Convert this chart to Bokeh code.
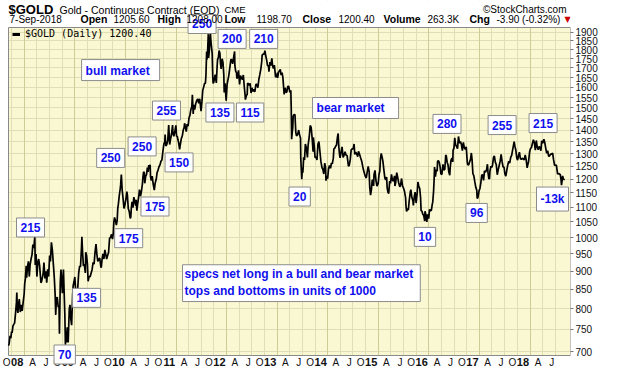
import math
import pandas as pd
from bokeh.plotting import figure
from bokeh.models import (Range1d, FixedTicker, PrintfTickFormatter, Label, Legend, LegendItem,
                          Grid, BoxAnnotation)
from bokeh.embed import file_html
from bokeh.resources import INLINE

# ---------------- data (continuous gold contract, USD/oz) ----------------
gold_2007 = [("2007-09-10", 713), ("2007-09-14", 718), ("2007-09-20", 735), ("2007-09-26", 730),
             ("2007-10-01", 745), ("2007-10-05", 742), ("2007-10-11", 758), ("2007-10-17", 762),
             ("2007-10-23", 765), ("2007-10-30", 790), ("2007-11-05", 815), ("2007-11-08", 842),
             ("2007-11-12", 800), ("2007-11-16", 790), ("2007-11-21", 812), ("2007-11-26", 825),
             ("2007-12-03", 792), ("2007-12-07", 800), ("2007-12-12", 810), ("2007-12-17", 795),
             ("2007-12-21", 808), ("2007-12-31", 838)]
gold_2008 = [("2008-01-04", 865), ("2008-01-09", 880), ("2008-01-15", 915), ("2008-01-18", 882),
             ("2008-01-24", 912), ("2008-01-31", 928), ("2008-02-06", 885), ("2008-02-12", 918),
             ("2008-02-19", 935), ("2008-02-26", 948), ("2008-03-03", 978), ("2008-03-10", 968),
             ("2008-03-17", 1003), ("2008-03-20", 918), ("2008-03-26", 950), ("2008-04-01", 885),
             ("2008-04-08", 925), ("2008-04-14", 935), ("2008-04-21", 915), ("2008-04-30", 868),
             ("2008-05-05", 872), ("2008-05-12", 885), ("2008-05-16", 892), ("2008-05-22", 925),
             ("2008-05-29", 880), ("2008-06-05", 900), ("2008-06-11", 868), ("2008-06-18", 905),
             ("2008-06-25", 885), ("2008-07-02", 945), ("2008-07-08", 928), ("2008-07-15", 985),
             ("2008-07-22", 960), ("2008-07-29", 920), ("2008-08-05", 880), ("2008-08-11", 835),
             ("2008-08-15", 785), ("2008-08-20", 825), ("2008-08-26", 830), ("2008-09-02", 805),
             ("2008-09-08", 805), ("2008-09-11", 740), ("2008-09-17", 870), ("2008-09-22", 905),
             ("2008-09-26", 880), ("2008-10-02", 840), ("2008-10-08", 890), ("2008-10-10", 905),
             ("2008-10-15", 840), ("2008-10-20", 785), ("2008-10-24", 715), ("2008-10-28", 745),
             ("2008-10-31", 720), ("2008-11-06", 755), ("2008-11-13", 720), ("2008-11-21", 800),
             ("2008-11-26", 810), ("2008-12-02", 775), ("2008-12-08", 760), ("2008-12-15", 835),
             ("2008-12-19", 860), ("2008-12-26", 872), ("2008-12-31", 884)]
gold_2009 = [("2009-01-07", 842), ("2009-01-15", 810), ("2009-01-22", 860), ("2009-01-28", 895),
             ("2009-02-04", 915), ("2009-02-10", 912), ("2009-02-17", 968), ("2009-02-20", 1002),
             ("2009-02-25", 955), ("2009-03-03", 915), ("2009-03-09", 920), ("2009-03-17", 895),
             ("2009-03-20", 955), ("2009-03-26", 945), ("2009-04-01", 920), ("2009-04-06", 872),
             ("2009-04-13", 885), ("2009-04-21", 885), ("2009-04-28", 895), ("2009-05-05", 905),
             ("2009-05-12", 925), ("2009-05-19", 920), ("2009-05-26", 955), ("2009-06-02", 980),
             ("2009-06-08", 950), ("2009-06-15", 928), ("2009-06-22", 935), ("2009-06-29", 938),
             ("2009-07-06", 915), ("2009-07-10", 910), ("2009-07-16", 935), ("2009-07-22", 950),
             ("2009-07-29", 935), ("2009-08-05", 962), ("2009-08-12", 948), ("2009-08-18", 935),
             ("2009-08-25", 945), ("2009-09-01", 955), ("2009-09-08", 998), ("2009-09-15", 1000),
             ("2009-09-22", 1010), ("2009-09-29", 995), ("2009-10-05", 1015), ("2009-10-09", 1050),
             ("2009-10-14", 1065), ("2009-10-20", 1055), ("2009-10-27", 1040), ("2009-11-02", 1055),
             ("2009-11-06", 1095), ("2009-11-11", 1112), ("2009-11-17", 1140), ("2009-11-24", 1165),
             ("2009-11-27", 1180), ("2009-12-02", 1218), ("2009-12-08", 1160), ("2009-12-15", 1128),
             ("2009-12-21", 1095), ("2009-12-28", 1108)]
gold_2010 = [("2010-01-06", 1135), ("2010-01-11", 1155), ("2010-01-15", 1140), ("2010-01-21", 1095),
             ("2010-01-28", 1085), ("2010-02-04", 1062), ("2010-02-08", 1065), ("2010-02-12", 1095),
             ("2010-02-17", 1118), ("2010-02-24", 1098), ("2010-03-02", 1135), ("2010-03-08", 1123),
             ("2010-03-15", 1105), ("2010-03-19", 1125), ("2010-03-24", 1088), ("2010-03-31", 1115),
             ("2010-04-06", 1135), ("2010-04-12", 1162), ("2010-04-19", 1138), ("2010-04-26", 1155),
             ("2010-05-03", 1182), ("2010-05-07", 1208), ("2010-05-12", 1228), ("2010-05-17", 1225),
             ("2010-05-20", 1185), ("2010-05-27", 1212), ("2010-06-02", 1218), ("2010-06-08", 1245),
             ("2010-06-14", 1228), ("2010-06-18", 1255), ("2010-06-24", 1240), ("2010-06-28", 1256),
             ("2010-07-01", 1208), ("2010-07-07", 1195), ("2010-07-13", 1212), ("2010-07-20", 1182),
             ("2010-07-28", 1160), ("2010-08-03", 1185), ("2010-08-11", 1200), ("2010-08-17", 1225),
             ("2010-08-24", 1235), ("2010-08-31", 1248), ("2010-09-07", 1255), ("2010-09-14", 1270),
             ("2010-09-21", 1275), ("2010-09-28", 1309), ("2010-10-05", 1340), ("2010-10-12", 1350),
             ("2010-10-14", 1380), ("2010-10-19", 1332), ("2010-10-26", 1338), ("2010-11-02", 1355),
             ("2010-11-09", 1422), ("2010-11-16", 1338), ("2010-11-22", 1360), ("2010-11-30", 1385),
             ("2010-12-07", 1422), ("2010-12-10", 1385), ("2010-12-16", 1373), ("2010-12-22", 1388),
             ("2010-12-31", 1421)]
gold_2011 = [("2011-01-05", 1372), ("2011-01-10", 1373), ("2011-01-14", 1360), ("2011-01-20", 1345),
             ("2011-01-27", 1318), ("2011-02-01", 1338), ("2011-02-08", 1363), ("2011-02-15", 1374),
             ("2011-02-22", 1400), ("2011-02-28", 1410), ("2011-03-04", 1430), ("2011-03-10", 1412),
             ("2011-03-16", 1393), ("2011-03-22", 1426), ("2011-03-29", 1417), ("2011-04-05", 1455),
             ("2011-04-11", 1465), ("2011-04-18", 1492), ("2011-04-25", 1507), ("2011-04-29", 1563),
             ("2011-05-05", 1472), ("2011-05-09", 1515), ("2011-05-16", 1492), ("2011-05-23", 1520),
             ("2011-05-31", 1537), ("2011-06-07", 1543), ("2011-06-14", 1522), ("2011-06-21", 1544),
             ("2011-06-28", 1500), ("2011-07-01", 1485), ("2011-07-07", 1530), ("2011-07-13", 1585),
             ("2011-07-19", 1600), ("2011-07-26", 1620), ("2011-08-01", 1620), ("2011-08-05", 1660),
             ("2011-08-10", 1790), ("2011-08-12", 1745), ("2011-08-17", 1790), ("2011-08-22", 1890),
             ("2011-08-24", 1755), ("2011-08-29", 1790), ("2011-09-01", 1828), ("2011-09-06", 1900),
             ("2011-09-09", 1860), ("2011-09-13", 1825), ("2011-09-19", 1780), ("2011-09-23", 1660),
             ("2011-09-26", 1620), ("2011-09-30", 1625), ("2011-10-04", 1640), ("2011-10-11", 1665),
             ("2011-10-19", 1622), ("2011-10-25", 1712), ("2011-10-28", 1745), ("2011-11-03", 1758),
             ("2011-11-08", 1795), ("2011-11-14", 1780), ("2011-11-18", 1725), ("2011-11-23", 1695),
             ("2011-11-30", 1750), ("2011-12-06", 1730), ("2011-12-12", 1665), ("2011-12-15", 1575),
             ("2011-12-21", 1620), ("2011-12-29", 1535)]
gold_2012 = [("2012-01-05", 1615), ("2012-01-10", 1635), ("2012-01-17", 1660), ("2012-01-25", 1705),
             ("2012-02-01", 1745), ("2012-02-07", 1745), ("2012-02-14", 1722), ("2012-02-21", 1758),
             ("2012-02-28", 1790), ("2012-03-01", 1712), ("2012-03-07", 1682), ("2012-03-13", 1675),
             ("2012-03-15", 1645), ("2012-03-21", 1650), ("2012-03-27", 1688), ("2012-04-04", 1615),
             ("2012-04-10", 1660), ("2012-04-17", 1648), ("2012-04-24", 1640), ("2012-05-01", 1663),
             ("2012-05-08", 1603), ("2012-05-14", 1560), ("2012-05-16", 1540), ("2012-05-23", 1560),
             ("2012-05-29", 1565), ("2012-06-01", 1622), ("2012-06-06", 1618), ("2012-06-12", 1610),
             ("2012-06-19", 1620), ("2012-06-26", 1572), ("2012-07-02", 1598), ("2012-07-09", 1580),
             ("2012-07-16", 1590), ("2012-07-23", 1577), ("2012-07-31", 1615), ("2012-08-07", 1615),
             ("2012-08-14", 1598), ("2012-08-21", 1640), ("2012-08-28", 1665), ("2012-09-04", 1693),
             ("2012-09-11", 1735), ("2012-09-14", 1770), ("2012-09-21", 1775), ("2012-09-28", 1775),
             ("2012-10-04", 1795), ("2012-10-10", 1765), ("2012-10-16", 1745), ("2012-10-23", 1712),
             ("2012-10-30", 1712), ("2012-11-02", 1680), ("2012-11-09", 1732), ("2012-11-15", 1712),
             ("2012-11-23", 1752), ("2012-11-28", 1715), ("2012-12-04", 1697), ("2012-12-11", 1715),
             ("2012-12-14", 1695), ("2012-12-20", 1652), ("2012-12-28", 1657)]
gold_2013 = [("2013-01-03", 1675), ("2013-01-04", 1648), ("2013-01-10", 1677), ("2013-01-17", 1685),
             ("2013-01-23", 1693), ("2013-01-29", 1663), ("2013-02-05", 1675), ("2013-02-11", 1648),
             ("2013-02-15", 1610), ("2013-02-20", 1565), ("2013-02-27", 1598), ("2013-03-05", 1575),
             ("2013-03-11", 1577), ("2013-03-18", 1605), ("2013-03-25", 1605), ("2013-04-02", 1575),
             ("2013-04-09", 1585), ("2013-04-12", 1502), ("2013-04-15", 1360), ("2013-04-16", 1370),
             ("2013-04-23", 1410), ("2013-04-26", 1462), ("2013-05-03", 1470), ("2013-05-09", 1468),
             ("2013-05-15", 1390), ("2013-05-20", 1375), ("2013-05-28", 1380), ("2013-06-05", 1400),
             ("2013-06-11", 1380), ("2013-06-18", 1365), ("2013-06-20", 1280), ("2013-06-27", 1200),
             ("2013-07-02", 1245), ("2013-07-05", 1225), ("2013-07-11", 1285), ("2013-07-17", 1275),
             ("2013-07-23", 1340), ("2013-07-30", 1325), ("2013-08-07", 1285), ("2013-08-12", 1335),
             ("2013-08-20", 1370), ("2013-08-27", 1420), ("2013-09-03", 1412), ("2013-09-10", 1365),
             ("2013-09-17", 1308), ("2013-09-19", 1368), ("2013-09-26", 1325), ("2013-10-01", 1285),
             ("2013-10-10", 1285), ("2013-10-15", 1275), ("2013-10-22", 1340), ("2013-10-29", 1350),
             ("2013-11-05", 1310), ("2013-11-12", 1270), ("2013-11-20", 1245), ("2013-11-27", 1237),
             ("2013-12-03", 1220), ("2013-12-10", 1262), ("2013-12-16", 1245), ("2013-12-19", 1195),
             ("2013-12-27", 1213), ("2013-12-31", 1202)]
gold_2014 = [("2014-01-06", 1238), ("2014-01-13", 1253), ("2014-01-21", 1242), ("2014-01-27", 1262),
             ("2014-02-03", 1260), ("2014-02-10", 1282), ("2014-02-14", 1320), ("2014-02-21", 1323),
             ("2014-02-27", 1331), ("2014-03-05", 1336), ("2014-03-12", 1370), ("2014-03-17", 1385),
             ("2014-03-21", 1333), ("2014-03-27", 1295), ("2014-03-31", 1283), ("2014-04-08", 1309),
             ("2014-04-14", 1328), ("2014-04-22", 1285), ("2014-04-29", 1295), ("2014-05-06", 1308),
             ("2014-05-12", 1295), ("2014-05-20", 1293), ("2014-05-27", 1265), ("2014-05-30", 1250),
             ("2014-06-05", 1253), ("2014-06-12", 1275), ("2014-06-19", 1316), ("2014-06-26", 1320),
             ("2014-07-03", 1320), ("2014-07-10", 1340), ("2014-07-15", 1297), ("2014-07-22", 1306),
             ("2014-07-29", 1300), ("2014-08-05", 1288), ("2014-08-11", 1310), ("2014-08-19", 1297),
             ("2014-08-26", 1284), ("2014-09-03", 1270), ("2014-09-10", 1250), ("2014-09-16", 1235),
             ("2014-09-23", 1222), ("2014-09-30", 1210), ("2014-10-06", 1205), ("2014-10-14", 1232),
             ("2014-10-20", 1249), ("2014-10-27", 1228), ("2014-10-31", 1171), ("2014-11-06", 1142),
             ("2014-11-12", 1162), ("2014-11-18", 1197), ("2014-11-24", 1195), ("2014-11-28", 1175),
             ("2014-12-01", 1218), ("2014-12-08", 1234), ("2014-12-15", 1195), ("2014-12-22", 1175),
             ("2014-12-31", 1184)]
gold_2015 = [("2015-01-06", 1218), ("2015-01-12", 1232), ("2015-01-16", 1277), ("2015-01-22", 1301),
             ("2015-01-28", 1287), ("2015-02-03", 1270), ("2015-02-09", 1241), ("2015-02-17", 1205),
             ("2015-02-23", 1198), ("2015-03-02", 1208), ("2015-03-06", 1167), ("2015-03-12", 1152),
             ("2015-03-17", 1148), ("2015-03-24", 1193), ("2015-03-30", 1185), ("2015-04-06", 1219),
             ("2015-04-13", 1197), ("2015-04-20", 1193), ("2015-04-28", 1213), ("2015-05-01", 1175),
             ("2015-05-07", 1190), ("2015-05-14", 1225), ("2015-05-21", 1207), ("2015-05-28", 1187),
             ("2015-06-05", 1172), ("2015-06-11", 1180), ("2015-06-18", 1203), ("2015-06-25", 1174),
             ("2015-07-01", 1169), ("2015-07-08", 1158), ("2015-07-17", 1133), ("2015-07-20", 1103),
             ("2015-07-24", 1085), ("2015-07-31", 1095), ("2015-08-06", 1090), ("2015-08-12", 1122),
             ("2015-08-20", 1153), ("2015-08-24", 1162), ("2015-08-31", 1134), ("2015-09-08", 1121),
             ("2015-09-11", 1106), ("2015-09-18", 1137), ("2015-09-24", 1153), ("2015-10-01", 1114),
             ("2015-10-08", 1145), ("2015-10-14", 1190), ("2015-10-20", 1175), ("2015-10-27", 1166),
             ("2015-11-02", 1133), ("2015-11-06", 1088), ("2015-11-12", 1086), ("2015-11-19", 1075),
             ("2015-11-25", 1072), ("2015-12-02", 1053), ("2015-12-04", 1086), ("2015-12-10", 1075),
             ("2015-12-17", 1050), ("2015-12-23", 1075), ("2015-12-31", 1061)]
gold_2016 = [("2016-01-06", 1092), ("2016-01-12", 1087), ("2016-01-19", 1089), ("2016-01-25", 1108),
             ("2016-01-29", 1117), ("2016-02-04", 1155), ("2016-02-08", 1198), ("2016-02-11", 1247),
             ("2016-02-17", 1210), ("2016-02-24", 1237), ("2016-03-01", 1231), ("2016-03-04", 1270),
             ("2016-03-10", 1272), ("2016-03-17", 1263), ("2016-03-22", 1248), ("2016-03-28", 1221),
             ("2016-04-04", 1218), ("2016-04-12", 1257), ("2016-04-18", 1235), ("2016-04-25", 1238),
             ("2016-05-02", 1295), ("2016-05-06", 1290), ("2016-05-12", 1266), ("2016-05-18", 1256),
             ("2016-05-24", 1228), ("2016-05-31", 1215), ("2016-06-03", 1244), ("2016-06-09", 1273),
             ("2016-06-16", 1282), ("2016-06-22", 1267), ("2016-06-24", 1315), ("2016-06-30", 1322),
             ("2016-07-06", 1366), ("2016-07-12", 1337), ("2016-07-19", 1330), ("2016-07-26", 1321),
             ("2016-08-02", 1372), ("2016-08-09", 1344), ("2016-08-16", 1350), ("2016-08-23", 1339),
             ("2016-08-30", 1313), ("2016-09-06", 1347), ("2016-09-13", 1325), ("2016-09-20", 1318),
             ("2016-09-27", 1328), ("2016-10-04", 1268), ("2016-10-07", 1257), ("2016-10-14", 1255),
             ("2016-10-21", 1267), ("2016-10-28", 1277), ("2016-11-03", 1303), ("2016-11-08", 1276),
             ("2016-11-14", 1222), ("2016-11-21", 1213), ("2016-11-28", 1190), ("2016-12-05", 1170),
             ("2016-12-12", 1160), ("2016-12-15", 1130), ("2016-12-20", 1133), ("2016-12-29", 1158)]
gold_2017 = [("2017-01-04", 1166), ("2017-01-10", 1186), ("2017-01-17", 1216), ("2017-01-24", 1217),
             ("2017-01-30", 1196), ("2017-02-06", 1232), ("2017-02-13", 1227), ("2017-02-21", 1236),
             ("2017-02-27", 1258), ("2017-03-03", 1227), ("2017-03-09", 1202), ("2017-03-14", 1202),
             ("2017-03-17", 1230), ("2017-03-24", 1250), ("2017-03-30", 1245), ("2017-04-05", 1255),
             ("2017-04-12", 1285), ("2017-04-18", 1291), ("2017-04-25", 1266), ("2017-05-02", 1256),
             ("2017-05-09", 1217), ("2017-05-16", 1237), ("2017-05-23", 1253), ("2017-05-30", 1270),
             ("2017-06-06", 1297), ("2017-06-13", 1268), ("2017-06-20", 1247), ("2017-06-27", 1247),
             ("2017-07-03", 1220), ("2017-07-10", 1212), ("2017-07-17", 1235), ("2017-07-24", 1255),
             ("2017-07-31", 1270), ("2017-08-07", 1262), ("2017-08-14", 1285), ("2017-08-21", 1293),
             ("2017-08-28", 1316), ("2017-09-05", 1340), ("2017-09-08", 1350), ("2017-09-14", 1329),
             ("2017-09-20", 1315), ("2017-09-27", 1283), ("2017-10-03", 1274), ("2017-10-10", 1293),
             ("2017-10-16", 1306), ("2017-10-23", 1280), ("2017-10-30", 1277), ("2017-11-06", 1282),
             ("2017-11-13", 1278), ("2017-11-20", 1275), ("2017-11-27", 1295), ("2017-12-04", 1275),
             ("2017-12-11", 1244), ("2017-12-15", 1255), ("2017-12-21", 1268), ("2017-12-29", 1309)]
gold_2018 = [("2018-01-05", 1322), ("2018-01-11", 1325), ("2018-01-17", 1340), ("2018-01-25", 1358),
             ("2018-02-01", 1346), ("2018-02-08", 1315), ("2018-02-15", 1355), ("2018-02-22", 1327),
             ("2018-03-01", 1316), ("2018-03-07", 1330), ("2018-03-14", 1325), ("2018-03-20", 1312),
             ("2018-03-26", 1353), ("2018-04-02", 1343), ("2018-04-11", 1360), ("2018-04-17", 1347),
             ("2018-04-24", 1323), ("2018-05-01", 1302), ("2018-05-08", 1312), ("2018-05-15", 1290),
             ("2018-05-21", 1290), ("2018-05-29", 1298), ("2018-06-05", 1298), ("2018-06-13", 1302),
             ("2018-06-19", 1278), ("2018-06-27", 1253), ("2018-07-03", 1255), ("2018-07-10", 1254),
             ("2018-07-17", 1227), ("2018-07-19", 1220), ("2018-07-26", 1223), ("2018-08-01", 1219),
             ("2018-08-07", 1219), ("2018-08-13", 1197), ("2018-08-16", 1178), ("2018-08-21", 1198),
             ("2018-08-24", 1213), ("2018-08-29", 1202), ("2018-09-04", 1199), ("2018-09-07", 1200.4)]

price_ticks = list(range(700, 1901, 50))
month_letters = {4: "A", 7: "J", 10: "O"}

# specs net long labels (thousands of contracts) and where they sit (date, price)
box_text = ["250", "200", "210", "255", "135", "115", "250", "250", "150", "175", "175",
            "215", "135", "70", "20", "280", "255", "215", "10", "96", "-13k"]
box_date = ["2011-07-08", "2012-02-10", "2012-09-25", "2010-10-24", "2011-11-14", "2012-06-19",
            "2009-09-16", "2010-05-01", "2011-01-23", "2010-08-02", "2010-01-24", "2008-02-15",
            "2009-03-26", "2008-10-19", "2013-06-12", "2016-05-11", "2017-06-13", "2018-04-05",
            "2015-12-04", "2016-12-11", "2018-06-12"]
box_price = [1951, 1862, 1862, 1488, 1479, 1479, 1283, 1330, 1265, 1102, 998,
             1032, 828, 693.5, 1137, 1427, 1422, 1431, 1002, 1080, 1128]

note_text = ["bull market", "bear market",
             "specs net long in a bull and bear market\ntops and bottoms in units of 1000"]
note_date = ["2009-02-18", "2013-09-13", "2011-02-17"]
note_price = [1689, 1500, 867]

header_stats = [("Open", "1205.60"), ("High", "1208.00"), ("Low", "1198.70"),
                ("Close", "1200.40"), ("Volume", "263.3K"), ("Chg", "-3.90 (-0.32%)")]

# ---------------- layout / styling ----------------
BG = "#FAF8D2"
GRID = "#E0DEB4"
YEAR_GRID = "#CFCC98"
BLUE = "#1010EE"
FONT = "Liberation Sans"
PLOT_W, PLOT_H = 562, 328            # the yellow chart area
PAD_L, PAD_T, PAD_B = 8, 27, 13
FRAME_W = PAD_L + PLOT_W
FRAME_H = PAD_T + PLOT_H + PAD_B


def ms(d):
    return pd.Timestamp(d).value / 1e6


series = gold_2007 + gold_2008 + gold_2009 + gold_2010 + gold_2011 + gold_2012 + \
    gold_2013 + gold_2014 + gold_2015 + gold_2016 + gold_2017 + gold_2018
dates = pd.to_datetime([d for d, _ in series])
closes = [v for _, v in series]

x0, x1 = ms("2007-09-09"), ms("2018-10-20")
y0, y1 = 691.3, 1929.7
dx = (x1 - x0) / PLOT_W
x_lo = x0 - PAD_L * dx
dly = (math.log(y1) - math.log(y0)) / PLOT_H
y_lo, y_hi = y0 * math.exp(-PAD_B * dly), y1 * math.exp(PAD_T * dly)

p = figure(frame_width=FRAME_W, frame_height=FRAME_H,
           x_axis_type="datetime", y_axis_type="log", y_axis_location="right",
           x_range=Range1d(x_lo, x1), y_range=Range1d(y_lo, y_hi),
           toolbar_location=None, output_backend="svg",
           min_border_left=0, min_border_top=0, min_border_bottom=0, min_border_right=0,
           background_fill_color="white", border_fill_color="white",
           outline_line_color=None)

# yellow chart area
p.add_layout(BoxAnnotation(left=x0, right=x1, bottom=y0, top=y1, fill_color=BG, fill_alpha=1.0,
                           line_color=None, level="image"))

# grids
p.xaxis.visible = False
p.xgrid.visible = False
quarters = pd.date_range("2007-10-01", "2018-07-01", freq="QS")
p.add_layout(Grid(dimension=0, ticker=FixedTicker(ticks=[ms(q) for q in quarters if q.month != 1]),
                  grid_line_color=GRID, grid_line_width=1))
p.add_layout(Grid(dimension=0, ticker=FixedTicker(ticks=[ms(q) for q in quarters if q.month == 1]),
                  grid_line_color=YEAR_GRID, grid_line_width=1))
p.ygrid.ticker = FixedTicker(ticks=price_ticks)
p.ygrid.grid_line_color = GRID

# white margins around the chart area (header / bottom labels / left strip), then its border
for l, r, b, t in [(x_lo, x0, y_lo, y_hi), (x_lo, x1, y1, y_hi), (x_lo, x1, y_lo, y0)]:
    p.add_layout(BoxAnnotation(left=l, right=r, bottom=b, top=t, fill_color="white",
                               fill_alpha=1.0, line_color=None, level="underlay"))
p.add_layout(BoxAnnotation(left=x0, right=x1, bottom=y0, top=y1, fill_alpha=0.0,
                           line_color="#8a8a8a", line_alpha=1.0, line_width=1, level="underlay"))

# right price axis
p.yaxis.ticker = FixedTicker(ticks=price_ticks, minor_ticks=[])
p.yaxis.formatter = PrintfTickFormatter(format="%d")
p.yaxis.axis_line_color = None
p.yaxis.major_tick_out = 3
p.yaxis.major_tick_in = 0
p.yaxis.major_tick_line_color = "#777777"
p.yaxis.minor_tick_line_color = None
p.yaxis.major_label_standoff = 2
p.yaxis.major_label_text_font = FONT
p.yaxis.major_label_text_font_size = "10px"
p.yaxis.major_label_text_color = "#111111"

# price line
line = p.line(x=dates, y=closes, line_color="black", line_width=1.7)

# legend
proxy = p.line(x=[dates[0], dates[0]], y=[closes[0], closes[0]], line_color="black", line_width=3)
legend = Legend(items=[LegendItem(label="$GOLD (Daily) 1200.40", renderers=[proxy])],
                location=(PAD_L + 4, FRAME_H - 39), margin=0, padding=0, spacing=0,
                glyph_width=8, glyph_height=10, label_height=10, label_standoff=5,
                label_text_font="DejaVu Sans Mono", label_text_font_size="10px",
                label_text_color="black", background_fill_alpha=0, border_line_alpha=0)
p.add_layout(legend)

# x tick labels (right-aligned to the quarter lines, years in bold)
for q in quarters:
    is_year = q.month == 1
    p.add_layout(Label(x=ms(q), y=6.5, x_units="data", y_units="screen",
                       text=q.strftime("%y") if is_year else month_letters[q.month],
                       text_align="right", text_baseline="middle", x_offset=-1,
                       text_font=FONT, text_font_size="11px" if is_year else "10px",
                       text_font_style="bold" if is_year else "normal",
                       text_color="#111111"))


def boxed(text, d, price, align, pad):
    common = dict(x=ms(d), y=price, text=text, text_align=align, text_baseline="middle",
                  text_font=FONT, text_font_style="bold", text_font_size="12px", padding=pad)
    p.add_layout(Label(**common, text_alpha=0.0, background_fill_color="#9a9a9a",
                       x_offset=2, y_offset=-2))
    p.add_layout(Label(**common, text_color=BLUE, background_fill_color="white",
                       border_line_color="#8c8c8c", border_line_width=1))


for t, d, pr in zip(box_text, box_date, box_price):
    boxed(t, d, pr, "center", (4, 5))
note_pads = [(4, 10, 4, 3), (4, 14, 4, 3), (2, 7, 2, 4)]
for t, d, pr, pad in zip(note_text, note_date, note_price, note_pads):
    boxed(t, d, pr, "left", pad)


# header (screen units from the frame's bottom-left corner)
def head(text, sx, sy, size="10px", style="normal", font=FONT, color="#000000", align="left"):
    p.add_layout(Label(x=sx, y=sy, x_units="screen", y_units="screen", text=text,
                       text_font=font, text_font_size=size, text_font_style=style,
                       text_color=color, text_align=align, text_baseline="middle"))


row1, row2 = FRAME_H - 8.5, FRAME_H - 18.5
head("$GOLD", 8, row1, size="13px", style="bold")
head("Gold - Continuous Contract (EOD)", 59, row1 - 0.5, size="10.5px")
head("CME", 224, row1 - 0.5, size="9.5px")
head("\u00a9StockCharts.com", 566, row1, size="10px", align="right")
head("7-Sep-2018", 9, row2)
stat_x = [(80, 113), (157, 186), (224, 256), (302, 338), (383, 427), (469, 496)]
for (lbl, val), (lx, vx) in zip(header_stats, stat_x):
    head(lbl, lx, row2, size="10.5px", style="bold")
    head(val, vx, row2)
head("\u25bc", 564, row2, size="8px", font="DejaVu Sans", color="#CC0000")

open("out.html", "w").write(file_html(p, INLINE))
